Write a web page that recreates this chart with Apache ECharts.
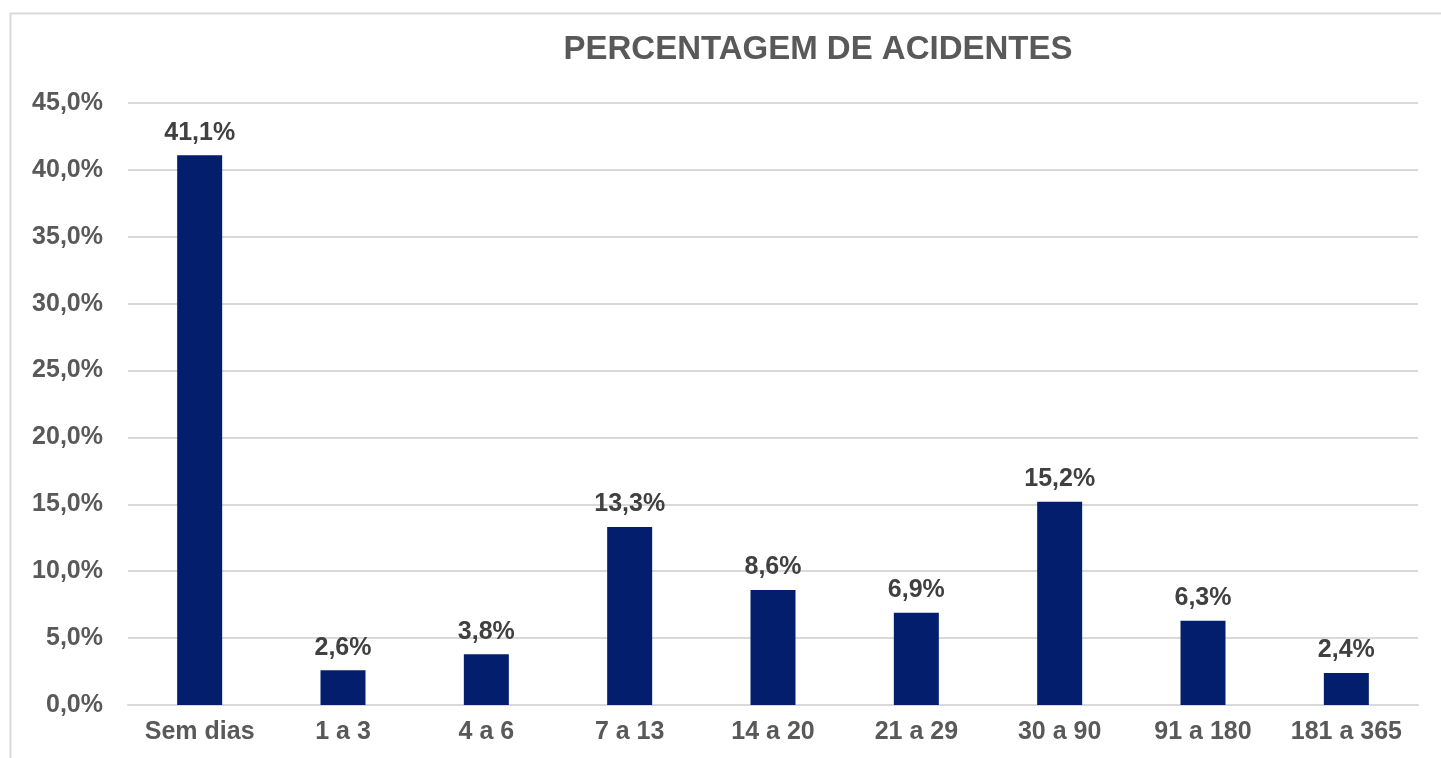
<!DOCTYPE html>
<html>
<head>
<meta charset="utf-8">
<script src="https://cdn.jsdelivr.net/npm/echarts@6/dist/echarts.min.js"></script>
<style>
  html, body { margin: 0; padding: 0; background: #fff; }
</style>
</head>
<body>
<div id="main" style="width:1441px;height:758px;"></div>
<script type="text/javascript">
    // dados
    var categorias = ['Sem dias', '1 a 3', '4 a 6', '7 a 13', '14 a 20', '21 a 29', '30 a 90', '91 a 180', '181 a 365'];
    var percentuais = [41.1, 2.6, 3.8, 13.3, 8.6, 6.9, 15.2, 6.3, 2.4];

    var fonte = 'Liberation Sans, Arial, sans-serif';

    var myChart = echarts.init(document.getElementById('main'));
    var option = {
        backgroundColor: '#ffffff',
        animation: false,
        graphic: [{
            type: 'rect',
            shape: { x: 10.5, y: 13.5, width: 1460, height: 780 },
            style: { fill: 'none', stroke: '#d9d9d9', lineWidth: 2 },
            silent: true
        }],
        title: {
            text: 'PERCENTAGEM DE ACIDENTES',
            left: 813,
            top: 28,
            textAlign: 'center',
            textStyle: {
                fontFamily: fonte,
                fontWeight: 'bold',
                fontSize: 33,
                color: '#595959'
            }
        },
        grid: {
            left: 128,
            right: 23,
            top: 103,
            bottom: 53
        },
        xAxis: {
            type: 'category',
            data: categorias,
            axisTick: { show: false },
            axisLine: { lineStyle: { color: '#d9d9d9', width: 2 } },
            axisLabel: {
                interval: 0,
                margin: 15,
                fontFamily: fonte,
                fontWeight: 'bold',
                fontSize: 25,
                color: '#595959'
            }
        },
        yAxis: {
            type: 'value',
            min: 0,
            max: 45,
            interval: 5,
            axisLine: { show: false },
            axisTick: { show: false },
            splitLine: { lineStyle: { color: '#d9d9d9', width: 2 } },
            axisLabel: {
                margin: 25,
                fontFamily: fonte,
                fontWeight: 'bold',
                fontSize: 25,
                color: '#595959',
                formatter: function (v) {
                    return v.toFixed(1).replace('.', ',') + '%';
                }
            }
        },
        series: [{
            name: 'Percentagem',
            type: 'bar',
            data: percentuais,
            barWidth: 45,
            itemStyle: { color: '#041e6e' },
            label: {
                show: true,
                position: 'top',
                distance: 10,
                fontFamily: fonte,
                fontWeight: 'bold',
                fontSize: 25,
                color: '#404040',
                formatter: function (p) {
                    return p.value.toFixed(1).replace('.', ',') + '%';
                }
            }
        }]
    };
    myChart.setOption(option);
</script>
</body>
</html>
